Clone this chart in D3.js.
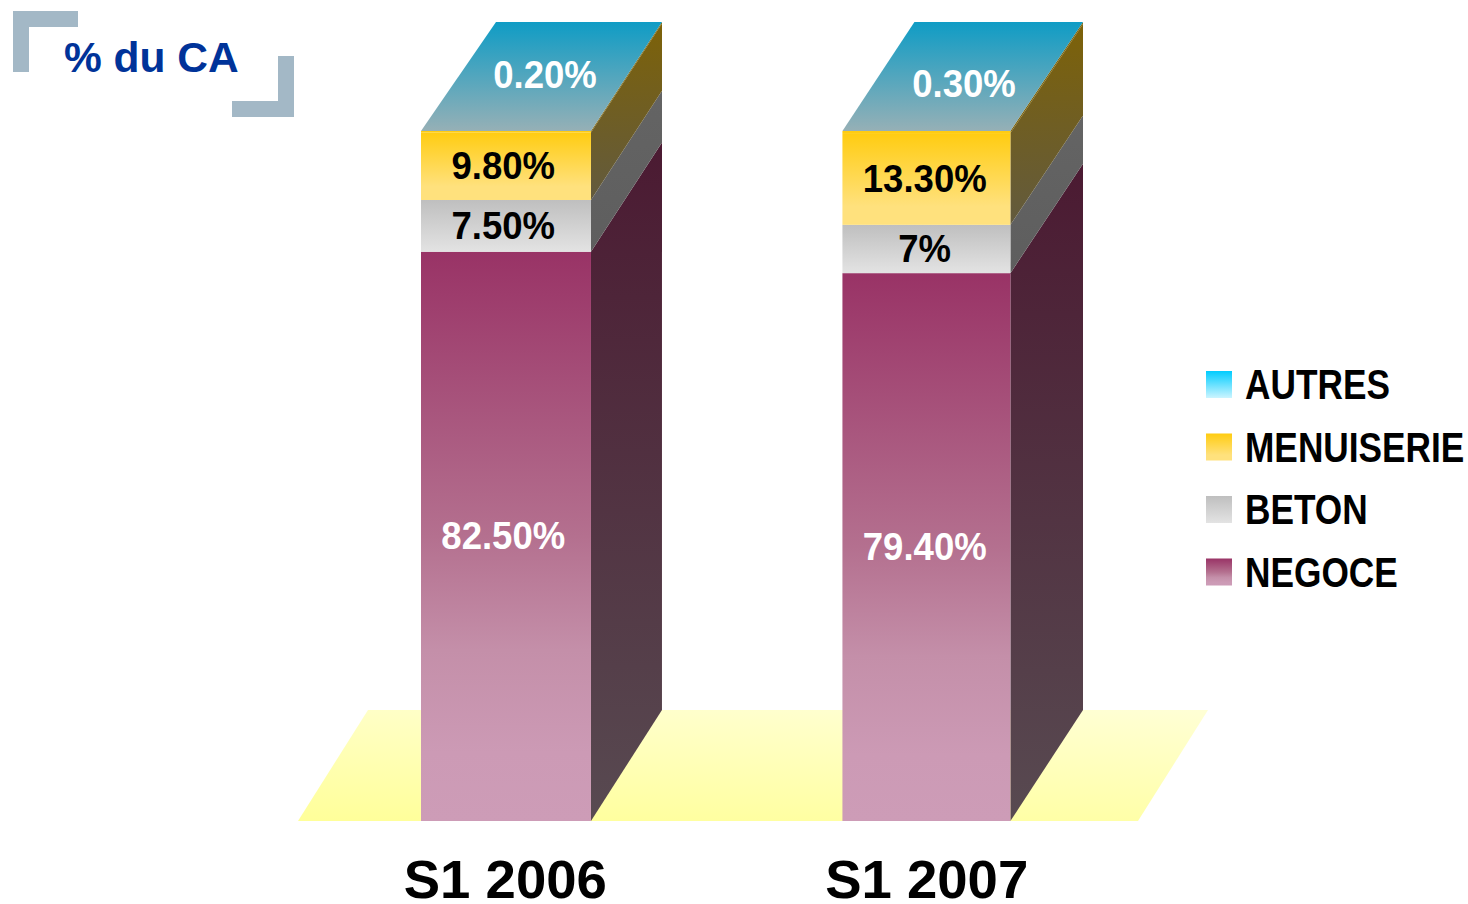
<!DOCTYPE html>
<html>
<head>
<meta charset="utf-8">
<script src="https://cdn.jsdelivr.net/npm/d3@7"></script>
<style>
  html, body { margin: 0; padding: 0; background: #fff; overflow: hidden; }
  text { font-family: "Liberation Sans", Arial, sans-serif; font-weight: bold; }
</style>
</head>
<body>
<div id="chart"></div>
<script>
// Data
var categories = ["S1 2006", "S1 2007"];
var seriesNames = ["NEGOCE", "BETON", "MENUISERIE", "AUTRES"];
var negoce = [82.5, 79.4];
var beton = [7.5, 7];
var menuiserie = [9.8, 13.3];
var autres = [0.2, 0.3];

var svgWidth = 1468;
var svgHeight = 904;

// The fake 3d is a bit uneven in the original, one entry per bar
var widthNudge = [1.4, -0.6];
var depthRight = [71, 72.6];
var depthLeft = [75, 72];
var autresLabelX = [545, 964];
var autresLabelMid = [75, 84];

// perspective: the receding edges get shorter going up
function depthY(v) {
  return 111 - 2 * v / 100;
}

var gradientStops = {
  NEGOCE: [[0, "#993366"], [0.5, "#b4708f"], [0.7, "#c48fa9"], [0.88, "#cc9ab5"], [1, "#cd9cb7"]],
  BETON: [[0, "#bfbfbf"], [1, "#e3e3e3"]],
  MENUISERIE: [[0, "#ffcc11"], [0.8, "#ffe17d"], [1, "#ffe17d"]],
  AUTRES: [[0, "#00ccff"], [1, "#ccf5ff"]]
};
var sideColors = {
  NEGOCE: ["#4b1a32", "#584a51"],
  BETON: ["#646464", "#5e5e5e"],
  MENUISERIE: ["#7d6208", "#625a3e"],
  AUTRES: ["#7d6208", "#7d6208"]
};
var labelColors = { NEGOCE: "#fff", BETON: "#000", MENUISERIE: "#000", AUTRES: "#fff" };

var svg = d3.select("#chart")
  .append("svg")
  .attr("width", svgWidth)
  .attr("height", svgHeight)
  .style("display", "block");

var defs = svg.append("defs");

function addGradient(id, stops, x1, y1, x2, y2) {
  var g = defs.append("linearGradient").attr("id", id)
    .attr("x1", x1 || 0).attr("y1", y1 || 0)
    .attr("x2", x2 || 0).attr("y2", y2 === undefined ? 1 : y2);
  stops.forEach(function(s) {
    g.append("stop").attr("offset", s[0]).attr("stop-color", s[1]);
  });
}

seriesNames.forEach(function(s) {
  addGradient("front-" + s, gradientStops[s]);
  addGradient("side-" + s, [[0, sideColors[s][0]], [1, sideColors[s][1]]]);
});
addGradient("top-face", [[0, "#0f9cc5"], [1, "#96b0b6"]]);
addGradient("floor", [[0, "#ffff99"], [1, "#ffffe9"]], 0, 1, 0.585, -0.606);

// Scales
var x = d3.scaleBand()
  .domain(categories)
  .range([421, 1011])
  .paddingInner(0.6);

var y = d3.scaleLinear()
  .domain([0, 100])
  .range([821, 131]);

var rows = categories.map(function(c, i) {
  return { category: c, index: i, NEGOCE: negoce[i], BETON: beton[i], MENUISERIE: menuiserie[i], AUTRES: autres[i] };
});
var stacked = d3.stack().keys(seriesNames)(rows);

function barWidth(i) {
  return x.bandwidth() + widthNudge[i];
}

// Floor
var floorLeft = x(categories[0]) - 123;
var floorRight = x(categories[1]) + x.bandwidth() + 127;
svg.append("polygon")
  .attr("fill", "url(#floor)")
  .attr("points", [
    [floorLeft, y(0)],
    [floorLeft + 70, y(0) - depthY(0)],
    [floorRight + 70, y(0) - depthY(0)],
    [floorRight, y(0)]
  ].join(" "));

// Side faces
stacked.forEach(function(layer) {
  svg.append("g").selectAll("polygon")
    .data(layer)
    .enter()
    .append("polygon")
    .attr("fill", "url(#side-" + layer.key + ")")
    .attr("points", function(d, i) {
      var right = x(d.data.category) + barWidth(i);
      return [
        [right, y(d[0])],
        [right + depthRight[i], y(d[0]) - depthY(d[0])],
        [right + depthRight[i], y(d[1]) - depthY(d[1])],
        [right, y(d[1])]
      ].join(" ");
    });
});

// Top faces
svg.append("g").selectAll("polygon")
  .data(categories)
  .enter()
  .append("polygon")
  .attr("fill", "url(#top-face)")
  .attr("points", function(c, i) {
    var left = x(c);
    return [
      [left, y(100)],
      [left + depthLeft[i], y(100) - depthY(100)],
      [left + barWidth(i) + depthRight[i], y(100) - depthY(100)],
      [left + barWidth(i), y(100)]
    ].join(" ");
  });

// Front faces (the thin AUTRES sliver blends into the yellow below it)
stacked.forEach(function(layer) {
  svg.append("g").selectAll("rect")
    .data(layer)
    .enter()
    .append("rect")
    .attr("x", function(d) { return x(d.data.category); })
    .attr("y", function(d) { return y(d[1]); })
    .attr("width", function(d, i) { return barWidth(i); })
    .attr("height", function(d) { return y(d[0]) - y(d[1]); })
    .attr("fill", layer.key === "AUTRES" ? "#ffcc11" : "url(#front-" + layer.key + ")");
});

// Value labels
function fmt(v) {
  return (Number.isInteger(v) ? v : v.toFixed(2)) + "%";
}

stacked.forEach(function(layer) {
  svg.append("g").selectAll("text")
    .data(layer)
    .enter()
    .append("text")
    .attr("text-anchor", "middle")
    .attr("font-size", 38.5)
    .attr("fill", labelColors[layer.key])
    .attr("transform", function(d, i) {
      var cx = x(d.data.category) + x.bandwidth() / 2 - 2;
      var mid = (y(d[0]) + y(d[1])) / 2;
      if (layer.key === "AUTRES") {
        cx = autresLabelX[i];
        mid = autresLabelMid[i];
      }
      return "translate(" + cx + "," + (mid + 13) + ") scale(0.95,1)";
    })
    .text(function(d) { return fmt(d.data[layer.key]); });
});

// Category axis
var xAxis = d3.axisBottom(x).tickSize(0).tickPadding(0);
var axisGroup = svg.append("g")
  .attr("transform", "translate(0," + y(0) + ")")
  .call(xAxis);
axisGroup.select(".domain").remove();
axisGroup.attr("font-family", null).attr("font-size", null);
axisGroup.selectAll("text")
  .attr("font-size", 54.5)
  .attr("fill", "#000")
  .attr("dy", "1.42em");

// Title with its corner brackets
var bracketColor = "#a3b8c6";
svg.append("path")
  .attr("fill", bracketColor)
  .attr("d", "M13,11H78V27H29V72H13Z");
svg.append("path")
  .attr("fill", bracketColor)
  .attr("d", "M294,56V117H232V101H278V56Z");
svg.append("text")
  .attr("x", 64)
  .attr("y", 72)
  .attr("font-size", 42.5)
  .attr("fill", "#003399")
  .text("% du CA");

// Legend, top entry first
var legendNames = seriesNames.slice().reverse();
var legendY = d3.scalePoint()
  .domain(legendNames)
  .range([384.5, 572]);

var legend = svg.append("g").selectAll("g")
  .data(legendNames)
  .enter()
  .append("g")
  .attr("transform", function(d) { return "translate(1206," + legendY(d) + ")"; });

legend.append("rect")
  .attr("y", -13.5)
  .attr("width", 26)
  .attr("height", 27)
  .attr("fill", function(d) { return "url(#front-" + d + ")"; });

legend.append("text")
  .attr("transform", "translate(39,14.5) scale(0.82,1)")
  .attr("font-size", 43)
  .attr("fill", "#000")
  .text(function(d) { return d; });
</script>
</body>
</html>
